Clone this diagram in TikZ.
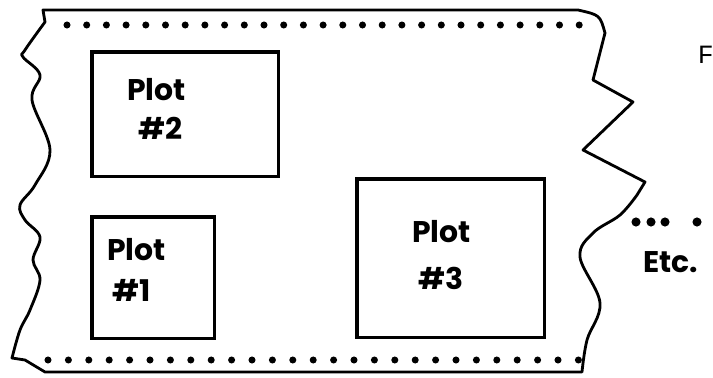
\documentclass[tikz,border=0pt]{standalone}
\usepackage{fontspec}
\newfontfamily\handfont{Poppins}
\newfontfamily\typefont{Liberation Mono}
\usetikzlibrary{positioning}

\begin{document}
\begin{tikzpicture}[x=0.02cm, y=-0.02cm,
      every node/.style={inner sep=0pt},
      plotbox/.style={
        rectangle, draw, line width=2pt, anchor=north west
      },
      plottext/.style={font=\handfont\bfseries\fontsize{17}{19}\selectfont, anchor=west},
      papertear/.style={line width=1.6pt, line join=round},
      holedot/.style={fill=black}
    ]
    \useasboundingbox (0,0) rectangle (713,378);

    % ===== The paper strip with its torn ends =====
    \draw[papertear] (45,372) -- (582,372)
      -- plot[smooth, tension=0.6] coordinates {(582,372) (587,340) (600,303)
        (580,257) (593,233) (620,215) (637,195)}
      -- (645,182) -- (583,150) -- (633,102) -- (593,80) -- (605,33)
      .. controls (600,15) .. (578,10) -- (43,10) -- (45,22)
      -- plot[smooth, tension=0.6] coordinates {(45,22) (25,50) (23,57) (40,75)
        (32,100) (50,150) (35,185) (20,205) (25,220) (40,237) (33,260)
        (40,280) (30,310) (20,330) (12,358)}
      -- (25,360) -- cycle;

    % ===== Feed holes along both edges =====
    \foreach \i in {0,...,26} {
      \fill[holedot] (67+\i*19.7,25) circle[radius=2pt];
      \fill[holedot] (48+\i*20.4,360) circle[radius=2pt];
    }

    % ===== The three plots =====
    \node[plotbox, minimum width=3.74cm, minimum height=2.5cm] (plot2) at (90,50) {};
    \node[plotbox, minimum width=2.46cm, minimum height=2.44cm] (plot1) at (90,215) {};
    \node[plotbox, minimum width=3.76cm, minimum height=3.18cm] (plot3) at (355,177) {};

    \node[plottext] (plot2a) at (127,90) {Plot};
    \node[plottext] (plot2b) at (138,128) {\#2};
    \node[plottext] (plot1a) at (107,250) {Plot};
    \node[plottext] (plot1b) at (112,290) {\#1};
    \node[plottext] (plot3a) at (412,232) {Plot};
    \node[plottext] (plot3b) at (418,278) {\#3};

    % ===== Continuation on the right =====
    \foreach \x in {636,651,665,697}
      \fill[holedot] (\x,222) circle[radius=2.6pt];
    \node[plottext] (etc) at (643,262) {Etc.};
    \node[font=\typefont\fontsize{15}{17}\selectfont, anchor=east] (fig) at (714,55) {F};
  \end{tikzpicture}
\end{document}
